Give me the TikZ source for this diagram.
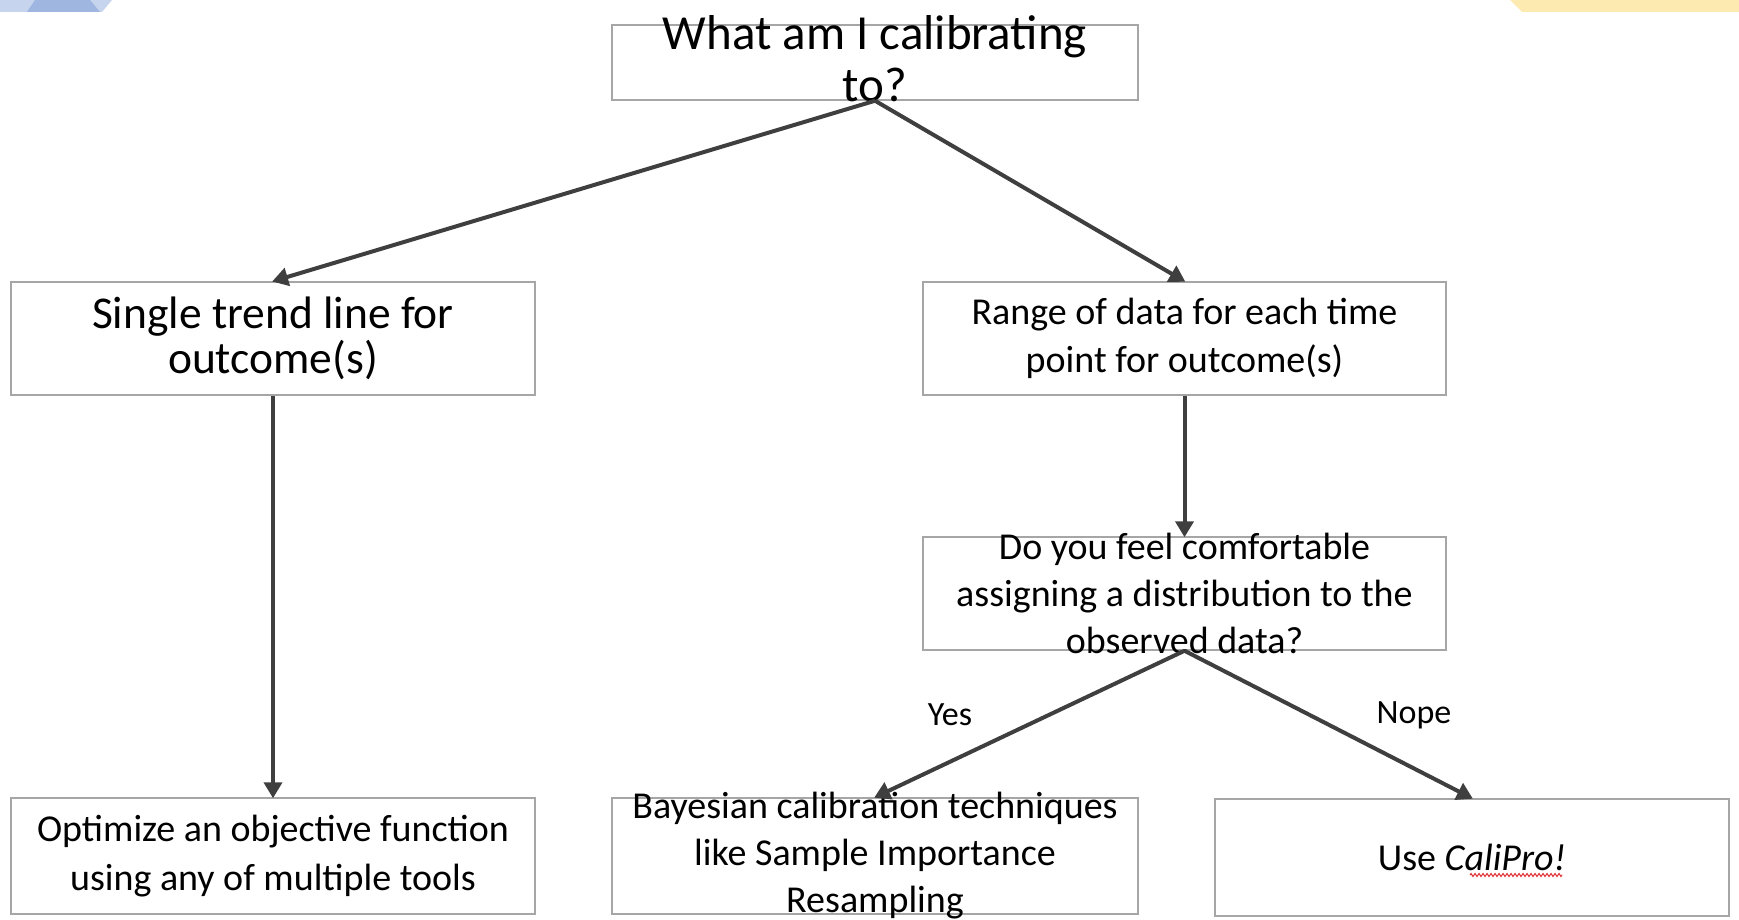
\documentclass[tikz,border=0pt]{standalone}
\usepackage{fontspec}
\setmainfont{Carlito}
\usetikzlibrary{arrows.meta,decorations.pathmorphing}
\definecolor{boxgray}{HTML}{A6A6A6}
\definecolor{arrowgray}{HTML}{3F3F3F}
\definecolor{lightblue}{HTML}{C7D4EE}
\definecolor{darkblue}{HTML}{9EB6E0}
\definecolor{lightyellow}{HTML}{FDEAB0}
\definecolor{spellred}{HTML}{E03030}
\begin{document}
\begin{tikzpicture}[x=1pt,y=-1pt,
  box/.style={draw=boxgray,line width=1.5pt,inner sep=0pt,minimum width=#1},
  box/.default=524pt,
  txt/.style={inner sep=0pt,align=center,text=black},
  arr/.style={draw=arrowgray,line width=4pt,-{Triangle[length=16pt,width=18pt]},shorten >=-1pt},
  lbl/.style={inner sep=0pt,text=black,font=\fontsize{34}{40}\selectfont}]
\useasboundingbox (0,0) rectangle (1739,920);
% corner decorations
\fill[lightblue] (0,0) -- (112,0) -- (102,12) -- (0,12) -- cycle;
\fill[darkblue] (35,0) -- (90,0) -- (100,12) -- (27,12) -- cycle;
\fill[lightyellow] (1510,0) -- (1739,0) -- (1739,12) -- (1522,12) -- cycle;
% boxes
\node[box=526pt,minimum height=75pt] (top) at (875,62.5) {};
\node[box=524pt,minimum height=113pt] (single) at (273,338.5) {};
\node[box=523pt,minimum height=113pt] (range) at (1184.5,338.5) {};
\node[box=523pt,minimum height=113pt] (doyou) at (1184.5,593.5) {};
\node[box=524pt,minimum height=116pt] (opt) at (273,856) {};
\node[box=526pt,minimum height=116pt] (bayes) at (875,856) {};
\node[box=514pt,minimum height=117pt] (cali) at (1472,857.5) {};
% texts
\node[txt,font=\fontsize{49}{52}\selectfont] (topt) at ([yshift=4pt]top.center) {What am I calibrating\\to?};
\node[txt,font=\fontsize{45.5}{45}\selectfont] (singlet) at (single.center) {Single trend line for\\outcome(s)};
\node[txt,font=\fontsize{38}{47.5}\selectfont] (ranget) at (range.center) {Range of data for each time\\point for outcome(s)};
\node[txt,font=\fontsize{38}{47}\selectfont] (doyout) at (doyou.center) {Do you feel comfortable\\assigning a distribution to the\\observed data?};
\node[txt,font=\fontsize{38}{48.5}\selectfont] (optt) at (opt.center) {Optimize an objective function\\using any of multiple tools};
\node[txt,font=\fontsize{38}{47}\selectfont] (bayest) at (bayes.center) {Bayesian calibration techniques\\like Sample Importance\\Resampling};
\node[txt,font=\fontsize{38}{47}\selectfont] (calit) at (cali.center) {Use \itshape CaliPro!};
\draw[spellred,line width=1pt,decorate,decoration={zigzag,segment length=4pt,amplitude=1.5pt}]
  ([xshift=-2pt,yshift=-4pt]calit.south) -- ([xshift=-4pt,yshift=-4pt]calit.south east);
% arrows
\draw[arr] (top.south) -- (single.north);
\draw[arr] (top.south) -- (range.north);
\draw[arr] (single.south) -- (opt.north);
\draw[arr] (range.south) -- (doyou.north);
\draw[arr] (doyou.south) -- (bayes.north);
\draw[arr] (doyou.south) -- (cali.north);
% labels
\node[lbl] (yes) at (950,715) {Yes};
\node[lbl] (nope) at (1414,715) {Nope};
\end{tikzpicture}
\end{document}
